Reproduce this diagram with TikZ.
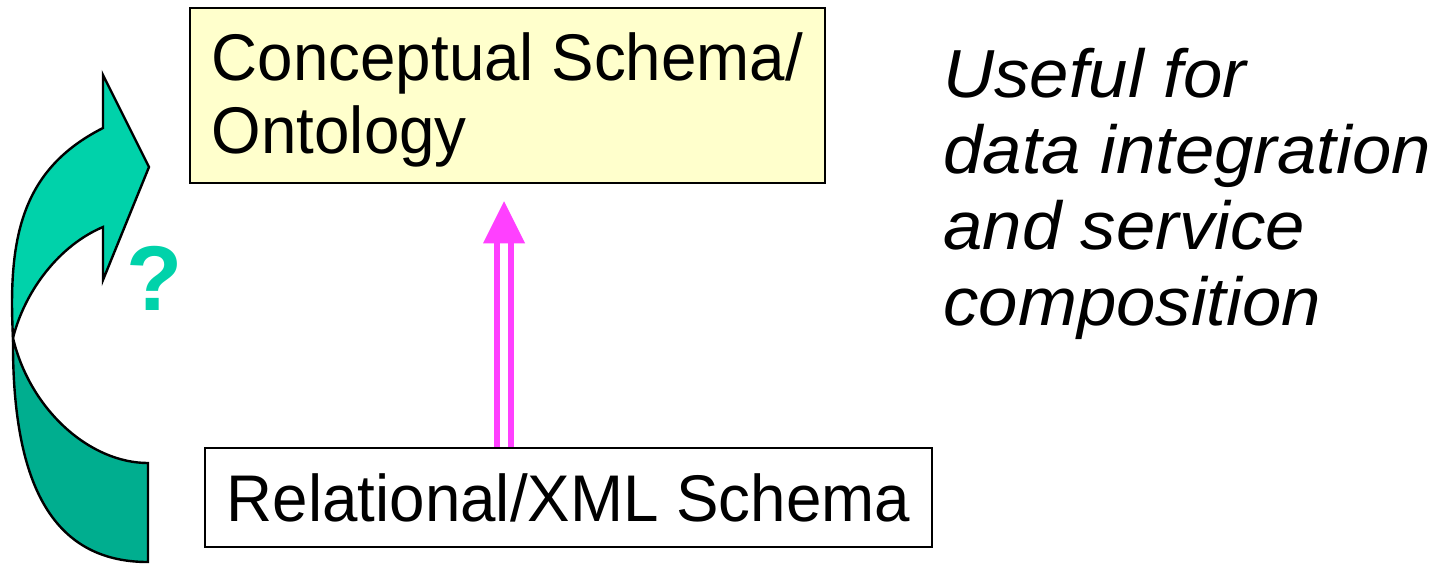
\documentclass[tikz,border=0pt]{standalone}
\usepackage{fontspec}
\setmainfont{Liberation Sans}
\newfontfamily\boxfont{Liberation Sans}[FakeStretch=0.965]
\newfontfamily\notefont{Liberation Sans}[FakeStretch=1.04]
\definecolor{boxyellow}{RGB}{255,255,204}
\definecolor{tealhi}{RGB}{0,210,170}
\definecolor{teallo}{RGB}{0,174,143}
\definecolor{linkpink}{RGB}{255,64,255}
\begin{document}
\begin{tikzpicture}[x=0.5pt,y=-0.5pt,
  schemabox/.style={draw=black, line width=1.25pt, inner sep=0pt,
    font=\boxfont\fontsize{33}{36.5}\selectfont},
  bentarrow/.style={draw=black, line width=1.2pt, line join=miter},
  dblline/.style={draw=linkpink, line width=2.8pt, double=white, double distance=4pt}]
\useasboundingbox (0,0) rectangle (1443,564);

% schema boxes
\node[schemabox, fill=boxyellow, minimum width=317.5pt, minimum height=87.5pt,
      align=left] (concept) at (507.5,95.5)
      {\rule{0pt}{28pt}Conceptual Schema/\\Ontology};
\node[schemabox, fill=white, minimum width=363.5pt, minimum height=49.5pt]
      (relational) at (568.5,497.5) {Relational/XML Schema};

% side remark
\node[anchor=north west, inner sep=0pt, align=left,
      font=\notefont\itshape\fontsize{34}{38}\selectfont] (useful) at (943,48)
      {Useful for\\data integration\\and service\\composition};

% double-lined mapping arrow
\path (concept.south -| 504,0) ++(0,17) coordinate (tip);
\path (tip) ++(0,42) coordinate (headbase);
\draw[dblline] (relational.north -| tip) -- ([yshift=1pt]headbase);
\fill[linkpink] (tip) -- ([xshift=-10.5pt]headbase) -- ([xshift=10.5pt]headbase) -- cycle;

% curved arrow: lower band first, upper band with head on top
\filldraw[bentarrow, fill=teallo]
  (13,338) .. controls (12,480) and (50,562) .. (148,562)
  -- (148,463) .. controls (90,463) and (30,410) .. cycle;
\filldraw[bentarrow, fill=tealhi]
  (13,338) .. controls (25,290) and (60,245) .. (103,227)
  -- (103,280) -- (149,167) -- (103,75) -- (103,128)
  .. controls (20,170) and (8,240) .. cycle;

\node[anchor=base, inner sep=0pt, text=tealhi,
      font=\bfseries\fontsize{46}{46}\selectfont] (qmark) at (155,310) {?};
\end{tikzpicture}
\end{document}
